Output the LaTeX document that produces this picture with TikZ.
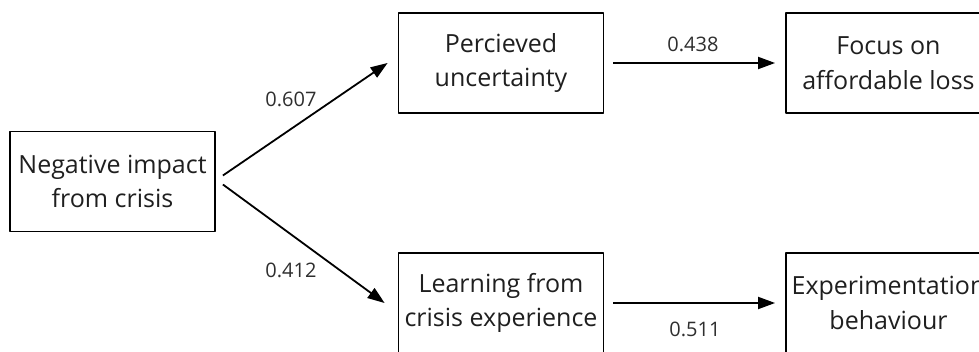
\documentclass[tikz,border=0pt]{standalone}
\usepackage{fontspec}
\setmainfont{Open Sans}
\usetikzlibrary{arrows.meta}
\begin{document}
\begin{tikzpicture}[x=1pt,y=-1pt,>={Triangle[length=17pt,width=12pt]},line join=round,
    box/.style={draw,line width=1.8pt,align=center,inner sep=0pt,
      minimum width=205pt,minimum height=100pt,text=black!88,
      font=\fontsize{25}{34.5}\selectfont},
    arr/.style={->,line width=1.8pt},
    wt/.style={font=\fontsize{20}{24}\selectfont,text=black!82}]
    \useasboundingbox (0,0) rectangle (979,352);
    \clip (0,0) rectangle (979,352);
    % boxes
    \node[box] (neg) at (112.5,181.5) {Negative impact\\from crisis};
    \node[box] (unc) at (501,63) {Percieved\\uncertainty};
    \node[box] (lrn) at (501,303) {Learning from\\crisis experience};
    \node[box] (aff) at (888.5,63) {Focus on\\affordable loss};
    \node[box] (exp) at (888.5,303) {Experimentation\\behaviour};
    % paths
    \draw[arr] ([xshift=7pt,yshift=6pt]neg.east) -- ([xshift=-10pt]unc.west);
    \draw[arr] ([xshift=7pt,yshift=-3pt]neg.east) -- ([xshift=-13pt]lrn.west);
    \draw[arr] ([xshift=9pt]unc.east) -- ([xshift=-10pt]aff.west);
    \draw[arr] ([xshift=9pt]lrn.east) -- ([xshift=-10pt]exp.west);
    % weights
    \node[wt] (w1) at (291,99) {0.607};
    \node[wt] (w2) at (291,270) {0.412};
    \node[wt] (w3) at (693,44) {0.438};
    \node[wt] (w4) at (695,329) {0.511};
\end{tikzpicture}
\end{document}
